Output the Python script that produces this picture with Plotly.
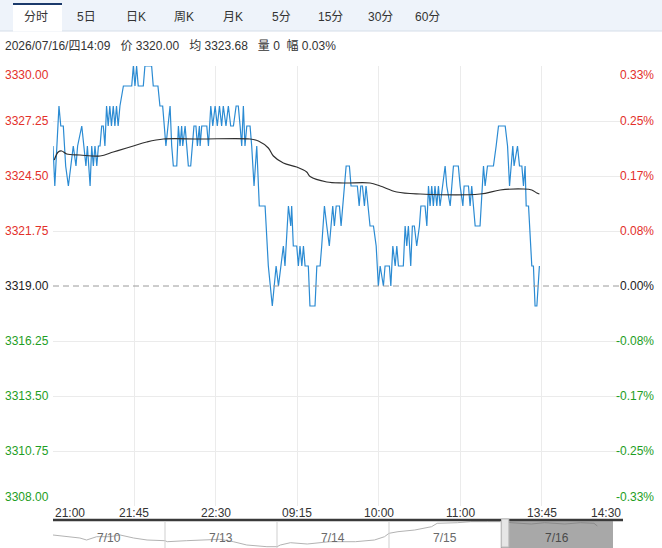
import plotly.graph_objects as go

W, H = 662, 548
FONT = "Liberation Sans, Noto Sans CJK SC, sans-serif"

# ---------------- data ----------------
base_price = 3319.00
tabs = ["分时", "5日", "日K", "周K", "月K", "5分", "15分", "30分", "60分"]
SP3 = "\u00a0\u00a0\u00a0"
SP2 = "\u00a0\u00a0"
info_text = ("2026/07/16/四14:09" + SP3 + "价 3320.00" + SP3 + "均 3323.68" + SP3
             + "量 0" + SP2 + "幅 0.03%")

tick_minutes = [0, 45, 90, 135, 180, 225, 270, 315]
tick_labels = ["21:00", "21:45", "22:30", "09:15", "10:00", "11:00", "13:45", "14:30"]

y_levels = [3330.00, 3327.25, 3324.50, 3321.75, 3319.00, 3316.25, 3313.50, 3310.75, 3308.00]

price_minutes = [
    0, 1, 3.3, 4.3, 5.7, 7, 8.5, 9.8, 11.2, 12.7, 13.6, 15.9, 17.1, 18.2, 19, 20.5, 21.4, 22.3, 23.2,
    24.2, 25.1, 26, 26.9, 27.8, 28.7, 29.6, 30.5, 31.4, 32.3, 33.3, 34.2, 35.1, 36, 37, 38.9, 43.5,
    44.4, 45.3, 46.2, 47.1, 49.9, 50.8, 54.5, 55.4, 58, 59.1, 60.6, 62.4, 64.7, 65.6, 66.5, 68.4,
    69.3, 70.2, 71.1, 71.7, 73, 73.9, 74.8, 76.1, 77.2, 77.9, 79, 79.8, 80.9, 81.3, 82.2, 85, 85.9,
    87.2, 88.3, 89.6, 90.8, 92, 93.2, 94.1, 95.6, 96.9, 98.2, 99.7, 101.2, 102.4, 103.4, 104.3,
    105.2, 106.1, 107.1, 108.9, 109.8, 111.1, 112.6, 114, 117.2, 119, 121.2, 123.3, 124.6, 125.9,
    127.3, 128.2, 130.1, 131.4, 131.9, 132.8, 134.7, 135.6, 136.5, 137.5, 138.4, 139.3, 141.1, 142,
    144.8, 145.8, 147.6, 148.5, 150, 151.3, 152.7, 154.6, 155.5, 156.5, 158.3, 159.2, 160.9, 162,
    163.8, 164.7, 168.2, 169.2, 170.1, 171, 172.1, 173, 175.2, 177.1, 178.6, 179.8, 180.8, 182.6,
    183.5, 185.9, 186.7, 187.8, 189.1, 190, 190.9, 193.6, 194.6, 195.5, 196.4, 197.7, 198.6, 199.7,
    201, 202.5, 203.3, 205.6, 206.6, 207.5, 208.4, 209.3, 210.2, 211.1, 212.1, 213, 213.9, 215.4,
    216.7, 217.6, 219.5, 220.4, 221.3, 224, 225, 226.5, 227.2, 229.6, 230.5, 231.4, 232.3, 233.3,
    236, 237, 237.9, 238.8, 240.1, 241.6, 243.4, 244.9, 246.2, 249.9, 251.2, 252.3, 254.1, 254.8,
    256.7, 257.8, 259.1, 260, 260.9, 261.5, 262.8, 264.6, 265.5, 266.4, 267.4, 268.8,
]
price_values = [
    3326, 3324, 3328, 3327, 3327, 3325, 3324, 3325, 3326, 3325, 3326, 3327, 3326, 3325, 3326, 3324, 3326, 3325, 3326,
    3325, 3326, 3326, 3327, 3327, 3326, 3328, 3327, 3328, 3327, 3328, 3327, 3328, 3327, 3328, 3329, 3329,
    3330, 3329, 3330, 3329, 3329, 3330, 3330, 3329, 3329, 3328, 3328, 3326, 3328, 3326, 3325, 3325,
    3327, 3326, 3327, 3326, 3327, 3326, 3325, 3325, 3326, 3327, 3327, 3326, 3327, 3326, 3327, 3327, 3326,
    3328, 3327, 3328, 3327, 3328, 3327, 3328, 3327, 3328, 3327, 3327, 3328, 3328, 3327, 3326,
    3328, 3326, 3327, 3327, 3326, 3324, 3326, 3323, 3323, 3320, 3318, 3320, 3319, 3320,
    3321, 3320, 3323, 3322, 3323, 3321, 3321, 3320, 3321, 3320, 3321, 3320, 3320, 3318,
    3318, 3320, 3320, 3321, 3323, 3322, 3321, 3323, 3322, 3323, 3323, 3322, 3324, 3325,
    3325, 3324, 3324, 3323, 3324, 3324, 3323, 3324, 3322, 3322, 3321, 3319, 3320, 3319,
    3320, 3320, 3319, 3321, 3320, 3321, 3320, 3320, 3322, 3321, 3322, 3320, 3322, 3322,
    3321, 3322, 3323, 3323, 3322, 3324, 3323, 3324, 3323, 3324, 3323, 3324, 3323, 3324,
    3325, 3324, 3323, 3324, 3325, 3325, 3324, 3323, 3324, 3324, 3323, 3324, 3323, 3322,
    3322, 3324, 3325, 3324, 3325, 3325, 3325, 3326, 3327, 3327, 3326, 3324, 3326, 3325,
    3326, 3325, 3325, 3324, 3325, 3323, 3323, 3320, 3320, 3318, 3318, 3320,
]

avg_minutes = [0.7, 2.9, 4.8, 7.6, 14.9, 26, 33.3, 40.7, 44.4, 51.8, 61, 81.3, 108.9, 113.5, 119,
               121.8, 127.3, 134.7, 140.2, 142.1, 151.3, 160.5, 175.2, 180.8, 190, 202.9, 236,
               247.1, 260, 264.6, 267.4, 268.8]
avg_values = [3325.3, 3325.7, 3325.75, 3325.6, 3325.55, 3325.5, 3325.7, 3325.9, 3326.0, 3326.2,
              3326.35, 3326.35, 3326.35, 3326.25, 3325.9, 3325.5, 3325.15, 3324.95, 3324.7,
              3324.47, 3324.2, 3324.15, 3324.15, 3324.0, 3323.7, 3323.6, 3323.6, 3323.8,
              3323.85, 3323.8, 3323.65, 3323.6]

nav_days = ["7/10", "7/13", "7/14", "7/15", "7/16"]
nav_x = [0, 0.12, 0.24, 0.30, 0.39, 0.51, 0.60, 0.72, 0.84, 1.0,
         1.02, 1.19, 1.37, 1.49, 1.61, 1.73, 1.91, 2.0,
         2.03, 2.12, 2.27, 2.47, 2.70, 2.87, 2.96, 3.0,
         3.08, 3.23, 3.38, 3.43, 3.61, 3.73, 3.88, 4.0,
         4.09, 4.27, 4.39, 4.57, 4.71, 4.83, 4.86]
nav_values = [3306.9, 3304.7, 3303.0, 3300.4, 3304.7, 3304.7, 3306.9, 3303.0, 3300.4, 3299.5,
              3298.2, 3299.5, 3300.4, 3301.3, 3298.2, 3293.9, 3291.7, 3291.7,
              3293.9, 3296.9, 3295.2, 3298.2, 3298.2, 3300.4, 3304.7, 3309.1,
              3311.2, 3313.4, 3317.7, 3322.1, 3322.9, 3324.2, 3324.2, 3324.2,
              3322.9, 3321.2, 3322.9, 3321.2, 3322.9, 3322.1, 3318.6]

# ---------------- styles / layout helpers ----------------
RED, GREEN, DARK = "#e3302a", "#1e9e24", "#222222"
tab_centers_px = [36, 86, 136, 184, 233, 281, 330, 380, 428]


def px_x(p):
    return p / W


def px_y(p):
    return 1 - p / H


fig = go.Figure()
fig.add_trace(go.Scatter(x=price_minutes, y=price_values, mode="lines",
                         line=dict(color="#2b8bd3", width=1.2), hoverinfo="skip"))
fig.add_trace(go.Scatter(x=avg_minutes, y=avg_values, mode="lines", line_shape="spline",
                         line=dict(color="#2f2f2f", width=1.2), hoverinfo="skip"))
fig.add_trace(go.Scatter(x=nav_x, y=nav_values, mode="lines", xaxis="x2", yaxis="y2",
                         line=dict(color="#b3b3b3", width=1), hoverinfo="skip"))

shapes = []
# tab bar
shapes.append(dict(type="rect", xref="paper", yref="paper", x0=0, x1=1, y0=px_y(31), y1=1,
                   fillcolor="#eef3fa", line=dict(width=0), layer="below"))
shapes.append(dict(type="line", xref="paper", yref="paper", x0=0, x1=1, y0=px_y(31), y1=px_y(31),
                   line=dict(color="#d6dee9", width=1)))
shapes.append(dict(type="rect", xref="paper", yref="paper", x0=px_x(13), x1=px_x(62),
                   y0=px_y(31.5), y1=px_y(3), fillcolor="#ffffff", line=dict(width=0)))
shapes.append(dict(type="line", xref="paper", yref="paper", x0=px_x(13), x1=px_x(62),
                   y0=px_y(4), y1=px_y(4), line=dict(color="#1b3a6b", width=2)))
# baseline (previous close)
shapes.append(dict(type="line", xref="x", yref="y", x0=0, x1=313, y0=base_price, y1=base_price,
                   line=dict(color="#9a9a9a", width=1, dash="6px,4px")))
# navigator
shapes.append(dict(type="line", xref="paper", yref="paper", x0=px_x(53), x1=px_x(623),
                   y0=px_y(520), y1=px_y(520), line=dict(color="#3a3a3a", width=2.5)))
for d in range(1, len(nav_days)):
    shapes.append(dict(type="line", xref="x2", yref="paper", x0=d, x1=d, y0=0, y1=px_y(521),
                       line=dict(color="#cfcfcf", width=1)))
shapes.append(dict(type="rect", xref="x2", yref="paper", x0=len(nav_days) - 1, x1=len(nav_days),
                   y0=0, y1=px_y(521), fillcolor="rgba(110,110,110,0.6)", line=dict(width=0),
                   layer="above"))
for hx0, hx1 in [(len(nav_days) - 1 + 0.005, len(nav_days) - 1 + 0.07),
                 (len(nav_days) + 0.005, len(nav_days) + 0.08)]:
    shapes.append(dict(type="rect", xref="x2", yref="paper", x0=hx0, x1=hx1,
                       y0=px_y(547), y1=px_y(519), fillcolor="#e6e6e6",
                       line=dict(color="#bdbdbd", width=1), layer="above"))

annotations = []
for t, cx in zip(tabs, tab_centers_px):
    annotations.append(dict(text=t, xref="paper", yref="paper", x=px_x(cx), y=px_y(17),
                            xanchor="center", yanchor="middle", showarrow=False,
                            font=dict(size=12, color="#333333", family=FONT)))
annotations.append(dict(text=info_text, xref="paper", yref="paper", x=px_x(3), y=px_y(46),
                        xanchor="left", yanchor="middle", showarrow=False,
                        font=dict(size=12, color="#333333", family=FONT)))

n = len(y_levels)
for i, lvl in enumerate(y_levels):
    col = RED if lvl > base_price else (GREEN if lvl < base_price else DARK)
    pct = (lvl - base_price) / base_price * 100
    ya = "top" if i == 0 else ("bottom" if i == n - 1 else "middle")
    annotations.append(dict(text=f"{lvl:.2f}", xref="paper", yref="y", x=px_x(51), y=lvl,
                            xanchor="right", yanchor=ya, showarrow=False,
                            font=dict(size=12, color=col, family=FONT)))
    annotations.append(dict(text=f"{pct:.2f}%", xref="paper", yref="y", x=px_x(656), y=lvl,
                            xanchor="right", yanchor=ya, showarrow=False,
                            font=dict(size=12, color=col, family=FONT)))

for i, (m, lab) in enumerate(zip(tick_minutes, tick_labels)):
    xa = "left" if i == 0 else ("right" if i == len(tick_labels) - 1 else "center")
    annotations.append(dict(text=lab, xref="x", yref="paper", x=m, y=px_y(513),
                            xanchor=xa, yanchor="middle", showarrow=False,
                            font=dict(size=12, color="#333333", family=FONT)))

for i, d in enumerate(nav_days):
    annotations.append(dict(text=d, xref="x2", yref="paper", x=i + 0.5, y=px_y(538),
                            xanchor="center", yanchor="middle", showarrow=False,
                            font=dict(size=12, color="#4a4a4a" if i == len(nav_days) - 1 else "#6a6a6a",
                                      family=FONT)))

fig.update_layout(
    width=W, height=H, margin=dict(l=0, r=0, t=0, b=0),
    paper_bgcolor="#ffffff", plot_bgcolor="#ffffff", showlegend=False,
    font=dict(family=FONT, size=12),
    xaxis=dict(domain=[px_x(53), px_x(623)], range=[0, tick_minutes[-1]],
               tickvals=tick_minutes[1:-1], showticklabels=False, showgrid=True,
               gridcolor="#ebebeb", gridwidth=1, zeroline=False, showline=False, ticks=""),
    yaxis=dict(domain=[(H - 506) / H, (H - 66) / H],
               range=[y_levels[-1], y_levels[0]],
               tickvals=[v for v in y_levels if v != base_price], showticklabels=False,
               showgrid=True, gridcolor="#ebebeb", gridwidth=1, zeroline=False, showline=False,
               ticks=""),
    xaxis2=dict(domain=[px_x(53), px_x(613)], range=[0, len(nav_days)], anchor="y2",
                visible=False),
    yaxis2=dict(domain=[0, 27 / H], range=[3290, 3325.1], anchor="x2", visible=False),
    shapes=shapes, annotations=annotations,
)

fig.write_html("out.html")
